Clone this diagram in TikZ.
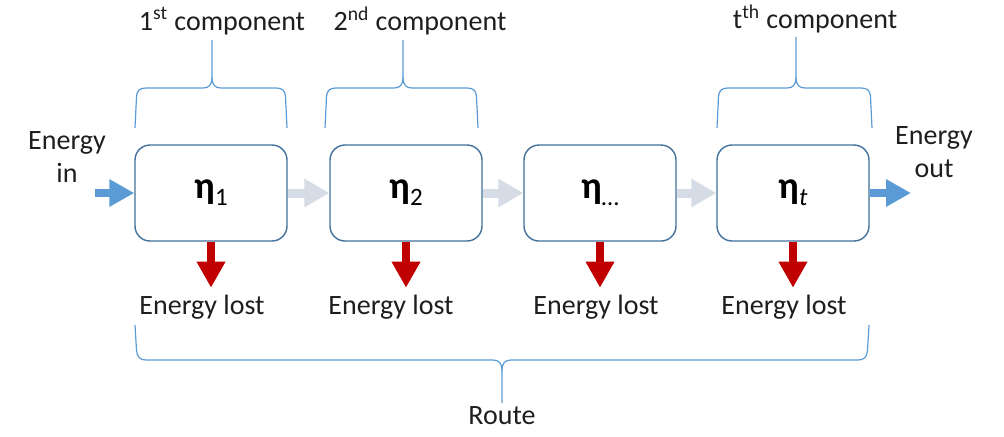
\documentclass[tikz,border=0pt]{standalone}
\usepackage{fontspec}
\setmainfont{Carlito}
\usetikzlibrary{arrows.meta}
\definecolor{boxline}{HTML}{41719C}
\definecolor{bracecol}{HTML}{5B9BD5}
\definecolor{flowblue}{HTML}{5B9BD5}
\definecolor{flowgray}{HTML}{D6DCE5}
\definecolor{lossred}{HTML}{C00000}
\definecolor{txtcol}{HTML}{1E1E1E}
\newcommand\drawtopbrace[4]{% left, right, centre, tip
  \draw[bracestyle] (#1,128) -- (#1+1.5,97) .. controls (#1+2,90) and (#1+5,88) .. (#1+11,88) -- (#3-9,88) .. controls (#3-3,88) and (#3,85) .. (#3,77) -- (#3,#4);
  \draw[bracestyle] (#2,128) -- (#2-1.5,97) .. controls (#2-2,90) and (#2-5,88) .. (#2-11,88) -- (#3+9,88) .. controls (#3+3,88) and (#3,85) .. (#3,77);
}
\newcommand\etalabel[1]{{\fontsize{19}{20}\selectfont\bfseries η}\raisebox{-3.5pt}{\fontsize{12.5}{13}\selectfont #1}}
\begin{document}
\begin{tikzpicture}[x=0.5pt,y=-0.5pt,
  stage/.style={draw=boxline, line width=0.7pt, rounded corners=7.5pt,
    minimum width=76pt, minimum height=48pt, inner sep=0pt, fill=white},
  lbl/.style={font=\fontsize{14}{16.5}\selectfont, text=txtcol, inner sep=0pt, align=center},
  bracestyle/.style={draw=bracecol, line width=0.6pt},
  flowblue/.style={draw=flowblue, line width=4pt, -{Triangle[length=12.5pt,width=13pt]}},
  flowgray/.style={draw=flowgray, line width=4.5pt, -{Triangle[length=12.5pt,width=13.5pt]}},
  loss/.style={draw=lossred, line width=4.3pt, -{Triangle[length=13pt,width=13.5pt]}}]
\useasboundingbox (0,0) rectangle (1004,436);

% boxes
\node[stage] (b1) at (211,193) {\etalabel{1}};
\node[stage] (b2) at (406,193) {\etalabel{2}};
\node[stage] (b3) at (600,193) {\etalabel{…}};
\node[stage] (b4) at (793,193) {\etalabel{\itshape t}};

% flow arrows
\coordinate (ein) at (95,193);
\coordinate (eout) at (911,193);
\draw[flowblue] (ein) -- (b1.west);
\draw[flowgray] (b1.east) -- (b2.west);
\draw[flowgray] (b2.east) -- (b3.west);
\draw[flowgray] (b3.east) -- (b4.west);
\draw[flowblue] (b4.east) -- (eout);

% losses
\foreach \b in {b1,b2,b3,b4}{
  \draw[loss] (\b.south) -- ++(0,46);
}

% labels
\node[lbl] (tin) at (67,157) {Energy\\in};
\node[lbl] (tout) at (934,152) {Energy\\out};
\node[lbl] (l1) at (202,307) {Energy lost};
\node[lbl] (l2) at (391,307) {Energy lost};
\node[lbl] (l3) at (596,307) {Energy lost};
\node[lbl] (l4) at (784,307) {Energy lost};
\node[lbl] (c1) at (222,21) {1\textsuperscript{st} component};
\node[lbl] (c2) at (420,21) {2\textsuperscript{nd} component};
\node[lbl] (c4) at (815,19) {t\textsuperscript{th} component};
\node[lbl] (route) at (502,416) {Route};

% top braces
\drawtopbrace{135}{287}{212}{40}
\drawtopbrace{325}{478}{403}{40}
\drawtopbrace{717}{872}{796}{37}

% bottom brace
\draw[bracestyle] (135,325) -- (136.5,350) .. controls (137,357) and (140,360) .. (146,360) -- (493,360) .. controls (499,360) and (502,363) .. (502,371) -- (502,403);
\draw[bracestyle] (869,325) -- (867.5,350) .. controls (867,357) and (864,360) .. (858,360) -- (511,360) .. controls (505,360) and (502,363) .. (502,371);
\end{tikzpicture}
\end{document}
